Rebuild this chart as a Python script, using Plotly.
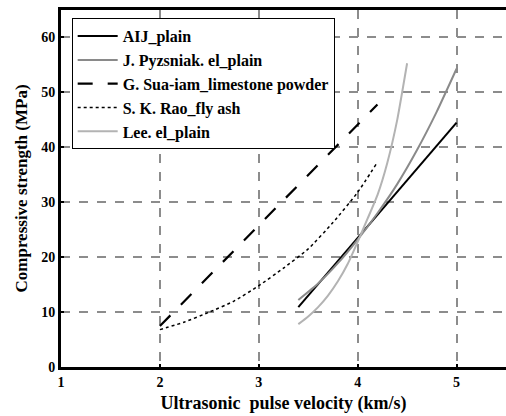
import plotly.graph_objects as go

# Data
aij_x = [3.4, 5.0]
aij_y = [10.9, 44.5]

pyz_x = [3.4, 3.6, 3.8, 4.0, 4.2, 4.4, 4.6, 4.8, 5.0]
pyz_y = [12.2, 15.2, 18.9, 23.2, 28.0, 33.3, 39.5, 46.5, 54.3]

sua_x = [2.0, 4.2]
sua_y = [7.45, 47.8]

rao_x = [2.0, 2.25, 2.5, 2.75, 3.0, 3.25, 3.5, 3.75, 4.0, 4.19]
rao_y = [6.8, 8.2, 10.0, 12.0, 14.8, 18.0, 21.5, 26.3, 31.8, 37.0]

lee_x = [3.4, 3.5, 3.6, 3.7, 3.8, 3.9, 4.0, 4.1, 4.2, 4.3, 4.4, 4.5]
lee_y = [7.8, 9.2, 10.9, 13.0, 15.6, 18.8, 22.8, 27.0, 31.3, 37.2, 45.0, 55.3]

x_ticks = [1, 2, 3, 4, 5]
y_ticks = [0, 10, 20, 30, 40, 50, 60]

FONT = "Times New Roman"

fig = go.Figure()
fig.add_trace(go.Scatter(x=aij_x, y=aij_y, mode="lines", name="<b>AIJ_plain</b>",
                         line=dict(color="black", width=2)))
fig.add_trace(go.Scatter(x=pyz_x, y=pyz_y, mode="lines", name="<b>J. Pyzsniak. el_plain</b>",
                         line=dict(color="#8a8a8a", width=2, shape="spline", smoothing=0.5)))
fig.add_trace(go.Scatter(x=sua_x, y=sua_y, mode="lines", name="<b>G. Sua-iam_limestone powder</b>",
                         line=dict(color="black", width=2.2, dash="longdash")))
fig.add_trace(go.Scatter(x=rao_x, y=rao_y, mode="lines", name="<b>S. K. Rao_fly ash</b>",
                         line=dict(color="black", width=1.5, dash="dot", shape="spline", smoothing=0.5)))
fig.add_trace(go.Scatter(x=lee_x, y=lee_y, mode="lines", name="<b>Lee. el_plain</b>",
                         line=dict(color="#b3b3b3", width=2, shape="spline", smoothing=0.5)))

fig.update_layout(
    width=506, height=416,
    margin=dict(l=61, r=0, t=10, b=49),
    plot_bgcolor="white", paper_bgcolor="white",
    showlegend=True,
    legend=dict(x=0.024, y=0.977, xanchor="left", yanchor="top",
                bordercolor="black", borderwidth=1, bgcolor="white",
                font=dict(family=FONT, size=16, color="black"), itemwidth=40),
)
fig.update_xaxes(
    range=[1, 5.5], tickvals=x_ticks, ticktext=[f"<b>{v}</b>" for v in x_ticks],
    tickfont=dict(family=FONT, size=14, color="black"),
    showgrid=True, gridcolor="#8c8c8c", griddash="dash", gridwidth=1.5,
    showline=True, linecolor="black", linewidth=3, mirror=True,
    ticks="inside", ticklen=3, tickwidth=2, tickcolor="black",
    zeroline=False,
    title=dict(text="<b>Ultrasonic  pulse velocity (km/s)</b>", font=dict(family=FONT, size=18, color="black"), standoff=8),
)
fig.update_yaxes(
    range=[0, 65], tickvals=y_ticks, ticktext=[f"<b>{v}</b>" for v in y_ticks],
    tickfont=dict(family=FONT, size=14, color="black"),
    showgrid=True, gridcolor="#8c8c8c", griddash="dash", gridwidth=1.5,
    showline=True, linecolor="black", linewidth=3, mirror=False,
    ticks="inside", ticklen=3, tickwidth=2, tickcolor="black",
    zeroline=False,
    title=dict(text="<b>Compressive strength (MPa)</b>", font=dict(family=FONT, size=17, color="black"), standoff=10),
)

fig.write_html("out.html")
